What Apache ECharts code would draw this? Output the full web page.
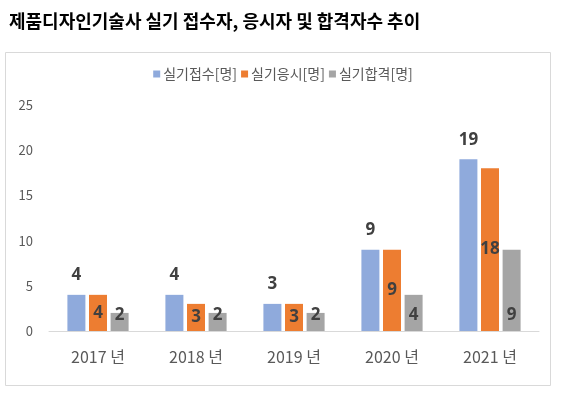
<!DOCTYPE html>
<html>
<head>
<meta charset="utf-8">
<script src="https://cdn.jsdelivr.net/npm/echarts@6/dist/echarts.min.js"></script>
<style>
html,body{margin:0;padding:0;background:#fff;}
#main{width:566px;height:397px;}
</style>
</head>
<body>
<div id="main"></div>
<script>
// 연도별 데이터
var years = ['2017 년', '2018 년', '2019 년', '2020 년', '2021 년'];
var receipt = [4, 4, 3, 9, 19];   // 실기접수
var applied = [4, 3, 3, 9, 18];   // 실기응시
var passed = [2, 2, 2, 4, 9];     // 실기합격
var yTicks = [0, 5, 10, 15, 20, 25];

var myChart = echarts.init(document.getElementById('main'));

var labelFont = {
    fontFamily: '"Noto Sans", "Noto Sans CJK KR", sans-serif',
    fontWeight: 'bold',
    fontSize: 17,
    color: '#404040'
};

var option = {
    backgroundColor: '#ffffff',
    textStyle: { fontFamily: '"Noto Sans CJK KR", "Noto Sans", sans-serif' },
    title: {
        text: '제품디자인기술사 실기 접수자, 응시자 및 합격자수 추이',
        left: 4,
        top: 7,
        textStyle: {
            fontFamily: '"Noto Sans CJK KR", sans-serif',
            fontWeight: 'bold',
            fontSize: 18,
            color: '#000000'
        }
    },
    graphic: [{
        type: 'rect',
        shape: { x: 5.5, y: 52.5, width: 545, height: 333 },
        style: { fill: 'none', stroke: '#d9d9d9', lineWidth: 1 },
        silent: true
    }],
    legend: {
        top: 62,
        left: 'center',
        itemWidth: 7,
        itemHeight: 7,
        itemGap: 4,
        icon: 'rect',
        textStyle: { color: '#595959', fontSize: 14, padding: [0, 0, 0, -2] },
        data: ['실기접수[명]', '실기응시[명]', '실기합격[명]']
    },
    grid: { left: 49, right: 27, top: 105, bottom: 66 },
    xAxis: {
        type: 'category',
        data: years,
        axisLine: { lineStyle: { color: '#d9d9d9' } },
        axisTick: { show: false },
        axisLabel: { color: '#595959', fontSize: 16, margin: 18 }
    },
    yAxis: {
        type: 'value',
        min: yTicks[0],
        max: yTicks[yTicks.length - 1],
        interval: 5,
        axisLine: { show: false },
        axisTick: { show: false },
        splitLine: { show: false },
        axisLabel: { color: '#595959', fontSize: 13, margin: 16 }
    },
    series: [{
        name: '실기접수[명]',
        type: 'bar',
        data: receipt,
        barWidth: 18,
        barGap: '20%',
        itemStyle: { color: '#8faadc' },
        label: Object.assign({ show: true, position: 'top', distance: 11 }, labelFont)
    }, {
        name: '실기응시[명]',
        type: 'bar',
        data: applied,
        barWidth: 18,
        barGap: '20%',
        itemStyle: { color: '#ed7d31' },
        label: Object.assign({ show: true, position: 'inside' }, labelFont)
    }, {
        name: '실기합격[명]',
        type: 'bar',
        data: passed,
        barWidth: 18,
        barGap: '20%',
        itemStyle: { color: '#a5a5a5' },
        label: Object.assign({ show: true, position: 'insideBottom', distance: 7 }, labelFont)
    }]
};
myChart.setOption(option);
</script>
</body>
</html>
